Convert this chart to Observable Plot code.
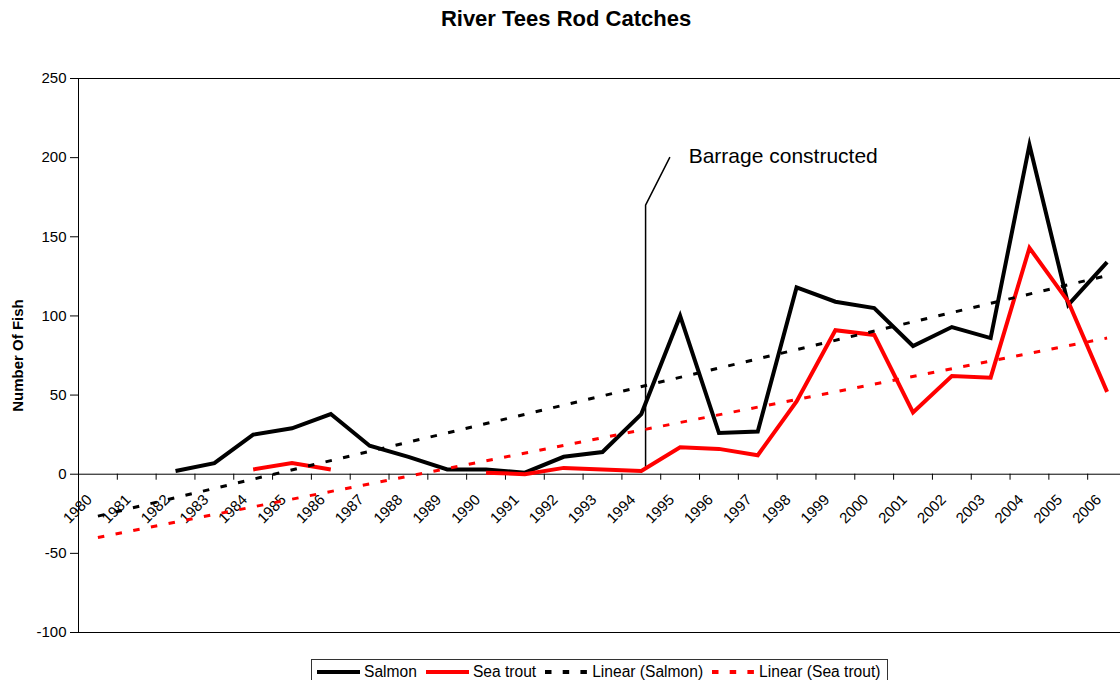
<!DOCTYPE html>
<html>
<head>
<meta charset="utf-8">
<script src="https://cdn.jsdelivr.net/npm/d3@7"></script>
<script src="https://cdn.jsdelivr.net/npm/@observablehq/plot@0.6"></script>
<style>
  body { margin: 0; background: #fff; font-family: Arial, "Liberation Sans", sans-serif; width: 1120px; height: 680px; overflow: hidden; position: relative; }
  #title { height: 40px; line-height: 38px; text-align: center; font-weight: bold; font-size: 22px; padding-left: 12px; box-sizing: border-box; }
  #legend { position: absolute; left: 311px; top: 659px; height: 26px; border: 1px solid #333; box-sizing: border-box;
            display: flex; align-items: center; padding: 0 7px 0 5px; font-size: 15.6px; white-space: nowrap; background: #fff; }
  #legend .item { display: flex; align-items: center; margin-right: 9px; }
  #legend .item:last-child { margin-right: 0; }
  #legend svg { margin-right: 4px; display: block; }
</style>
</head>
<body>
<div id="title">River Tees Rod Catches</div>
<div id="chart"></div>
<div id="legend"></div>
<script>
// Categories (years)
const years = [1980, 1981, 1982, 1983, 1984, 1985, 1986, 1987, 1988, 1989, 1990, 1991, 1992, 1993,
               1994, 1995, 1996, 1997, 1998, 1999, 2000, 2001, 2002, 2003, 2004, 2005, 2006];
// Rod catches
const salmon =   [null, null, 2, 7, 25, 29, 38, 18, 11, 3, 3, 1, 11, 14,
                  38, 100, 26, 27, 118, 109, 105, 81, 93, 86, 208, 107, 134];
const seaTrout = [null, null, null, null, 3, 7, 3, null, null, null, 1, 0, 4, 3,
                  2, 17, 16, 12, 46, 91, 88, 39, 62, 61, 143, 109, 52];
// Linear trendline values at the first and last category
const trendYears = [1980, 2006];
const trendSalmon = [-26.5, 125.5];
const trendSeaTrout = [-40, 86];
// Y axis ticks
const yTicks = [-100, -50, 0, 50, 100, 150, 200, 250];
// Barrage annotation (year position, value)
const barrageYearPos = [1994.11, 1994.11, 1994.73];
const barrageValues = [4, 170, 200];
const barrageLabel = "Barrage constructed";
const barrageLabelPos = [1995.22, 196.5];

const firstYear = years[0];
const pos = yr => yr - firstYear + 0.5;

const rows = years.map((yr, i) => ({year: yr, p: pos(yr), salmon: salmon[i], seaTrout: seaTrout[i]}));
const trendS = trendYears.map((yr, i) => ({p: pos(yr), v: trendSalmon[i]}));
const trendT = trendYears.map((yr, i) => ({p: pos(yr), v: trendSeaTrout[i]}));
const barrage = barrageYearPos.map((yr, i) => ({p: pos(yr), v: barrageValues[i]}));

const W = 1120, plotH = 610, mTop = 38, mBottom = 18, mLeft = 78, mRight = -6;
const unitsPerPxY = (yTicks[yTicks.length - 1] - yTicks[0]) / (plotH - mTop - mBottom);
const unitsPerPxX = years.length / (W - mLeft - mRight);
const xTickLen = 6 * unitsPerPxY;
const yTickLen = 8 * unitsPerPxX;

const lineStyle = {strokeLinejoin: "miter", strokeLinecap: "butt", strokeMiterlimit: 10};

const chart = Plot.plot({
  width: W,
  height: plotH,
  marginTop: mTop,
  marginBottom: mBottom,
  marginLeft: mLeft,
  marginRight: mRight,
  style: {fontFamily: 'Arial, "Liberation Sans", sans-serif', fontSize: "15px", color: "black", background: "white"},
  x: {domain: [0, years.length], axis: null},
  y: {domain: [yTicks[0], yTicks[yTicks.length - 1]], axis: null},
  marks: [
    Plot.frame({stroke: "black", strokeWidth: 1}),
    // y axis ticks and labels
    Plot.ruleY(yTicks, {x1: 0, x2: -yTickLen, stroke: "black", strokeWidth: 1}),
    Plot.text(yTicks, {x: 0, y: d => d, text: d => String(d), textAnchor: "end", dx: -12, fontSize: 15, fill: "black"}),
    // x axis at zero
    Plot.ruleY([0], {stroke: "black", strokeWidth: 1}),
    Plot.ruleX(d3.range(0, years.length + 1), {y1: 0, y2: -xTickLen, stroke: "black", strokeWidth: 1}),
    Plot.text(rows, {x: "p", y: 0, text: d => String(d.year), rotate: -45, textAnchor: "end", lineAnchor: "bottom",
                     dx: -5, dy: 26.5, fontSize: 15, fill: "black"}),
    Plot.text(["Number Of Fish"], {frameAnchor: "left", dx: -60, rotate: -90, fontWeight: "bold", fontSize: 15,
                                   textAnchor: "middle", fill: "black"}),
    // annotation
    Plot.line(barrage, {x: "p", y: "v", stroke: "black", strokeWidth: 1.5}),
    Plot.text([barrageLabel], {x: () => pos(barrageLabelPos[0]), y: () => barrageLabelPos[1], text: d => d,
                               textAnchor: "start", lineAnchor: "bottom", fontSize: 21, fill: "black"}),
    // series
    Plot.line(rows, {x: "p", y: "salmon", stroke: "black", strokeWidth: 4, ...lineStyle}),
    Plot.line(rows, {x: "p", y: "seaTrout", stroke: "#ff0000", strokeWidth: 4, ...lineStyle}),
    Plot.line(trendS, {x: "p", y: "v", stroke: "black", strokeWidth: 3, strokeDasharray: "6.5,11.5", strokeLinecap: "butt"}),
    Plot.line(trendT, {x: "p", y: "v", stroke: "#ff0000", strokeWidth: 3, strokeDasharray: "6.5,11.5", strokeLinecap: "butt"})
  ]
});
document.getElementById("chart").appendChild(chart);

// Legend
const legendItems = [
  {label: "Salmon", color: "black", dash: null},
  {label: "Sea trout", color: "#ff0000", dash: null},
  {label: "Linear (Salmon)", color: "black", dash: "6.5,11.2"},
  {label: "Linear (Sea trout)", color: "#ff0000", dash: "6.5,11.2"}
];
const legend = document.getElementById("legend");
for (const it of legendItems) {
  const item = document.createElement("div");
  item.className = "item";
  const ns = "http://www.w3.org/2000/svg";
  const svg = document.createElementNS(ns, "svg");
  svg.setAttribute("width", 43);
  svg.setAttribute("height", 10);
  const ln = document.createElementNS(ns, "line");
  ln.setAttribute("x1", 0); ln.setAttribute("x2", 43);
  ln.setAttribute("y1", 5); ln.setAttribute("y2", 5);
  ln.setAttribute("stroke", it.color);
  ln.setAttribute("stroke-width", 4);
  if (it.dash) ln.setAttribute("stroke-dasharray", it.dash);
  svg.appendChild(ln);
  const span = document.createElement("span");
  span.textContent = it.label;
  item.appendChild(svg);
  item.appendChild(span);
  legend.appendChild(item);
}
</script>
</body>
</html>
